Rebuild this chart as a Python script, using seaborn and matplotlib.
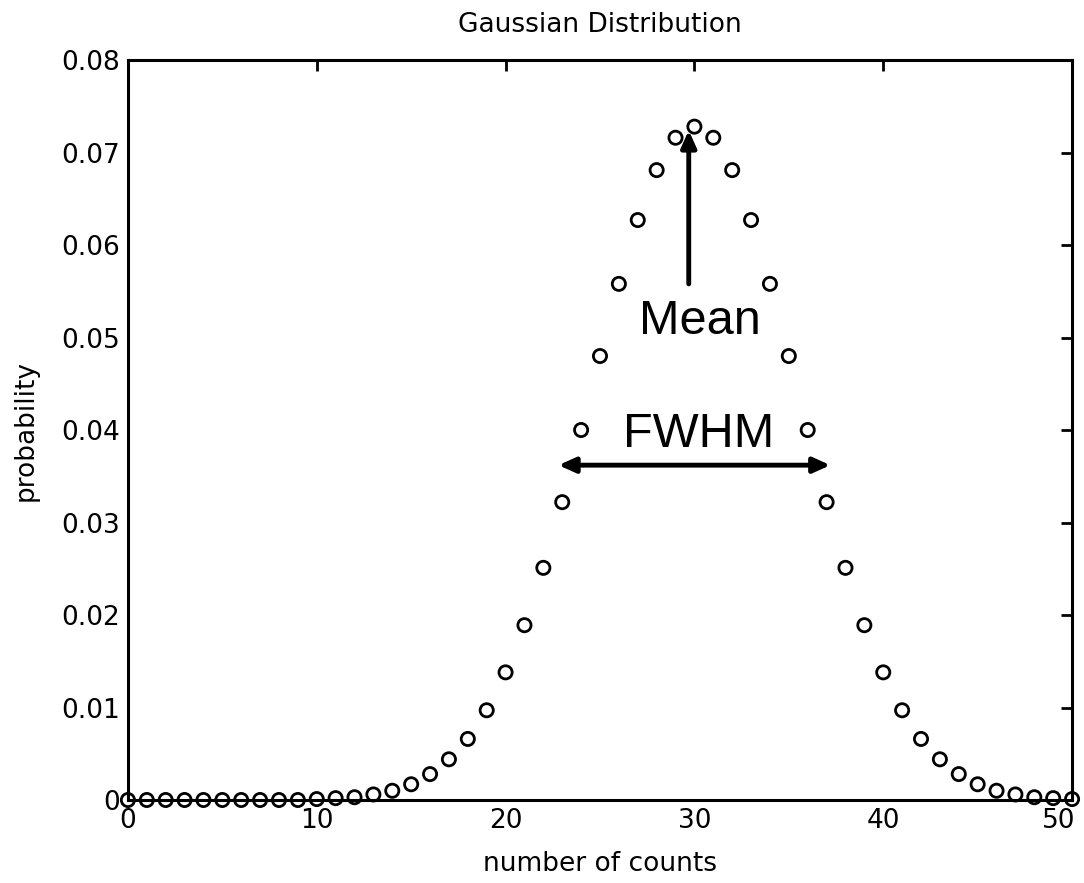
import numpy as np
import pandas as pd
import matplotlib
matplotlib.use("Agg")
import matplotlib.pyplot as plt
import matplotlib.transforms as mtransforms
import seaborn as sns

counts = list(range(0, 51))
prob = [
    0.0000, 0.0000, 0.0000, 0.0000, 0.0000, 0.0000, 0.0000, 0.0000, 0.0000, 0.0000,
    0.0001, 0.0002, 0.0003, 0.0006, 0.0010, 0.0017, 0.0028, 0.0044, 0.0066, 0.0097,
    0.0138, 0.0189, 0.0251, 0.0322, 0.0400, 0.0480, 0.0558, 0.0627, 0.0681, 0.0716,
    0.0728,
    0.0716, 0.0681, 0.0627, 0.0558, 0.0480, 0.0400, 0.0322, 0.0251, 0.0189, 0.0138,
    0.0097, 0.0066, 0.0044, 0.0028, 0.0017, 0.0010, 0.0006, 0.0003, 0.0002, 0.0001,
]
x_ticks = [0, 10, 20, 30, 40, 50]
y_ticks = [0, 0.01, 0.02, 0.03, 0.04, 0.05, 0.06, 0.07, 0.08]
y_ticklabels = ["0", "0.01", "0.02", "0.03", "0.04", "0.05", "0.06", "0.07", "0.08"]

df = pd.DataFrame({"counts": counts, "probability": prob})

sns.set_style("white")
plt.rcParams["font.family"] = ["DejaVu Sans"]
plt.rcParams["text.color"] = "black"
plt.rcParams["axes.labelcolor"] = "black"

fig = plt.figure(figsize=(10.84, 8.83), dpi=100)
ax = fig.add_axes([0.118, 0.094, 0.871, 0.838])

sns.scatterplot(
    data=df, x="counts", y="probability", marker="o", s=90,
    facecolor="none", edgecolor="black", linewidth=2.0, ax=ax, zorder=3, clip_on=False
)

ax.set_xlim(0, 50)
ax.set_ylim(0, 0.08)
ax.set_xticks(x_ticks)
ax.set_xticklabels([str(t) for t in x_ticks])
ax.set_yticks(y_ticks)
ax.set_yticklabels(y_ticklabels)
ax.tick_params(direction="in", length=8, width=2, top=True, right=True,
               labelsize=19, colors="black", pad=6)

# keep the last x label inside the figure, like the reference
last = ax.get_xticklabels()[-1]
last.set_transform(last.get_transform() +
                   mtransforms.ScaledTranslation(-0.13, 0, fig.dpi_scale_trans))

for s in ax.spines.values():
    s.set_visible(True)
    s.set_linewidth(2.2)
    s.set_color("black")

ax.set_title("Gaussian Distribution", fontsize=19, pad=20, color="black")
ax.set_xlabel("number of counts", fontsize=19, labelpad=12)
ax.set_ylabel("probability", fontsize=19, labelpad=16)

# annotations
ax.annotate("", xy=(29.7, 0.0727), xytext=(29.7, 0.0555),
            arrowprops=dict(arrowstyle="-|>,head_length=1.0,head_width=0.45",
                            color="black", lw=3.5))
ax.text(30.3, 0.0517, "Mean", fontsize=35, ha="center", va="center",
        family=["Liberation Sans", "DejaVu Sans"])
ax.annotate("", xy=(22.8, 0.0362), xytext=(37.2, 0.0362),
            arrowprops=dict(arrowstyle="<|-|>,head_length=1.0,head_width=0.45",
                            color="black", lw=3.5, shrinkA=0, shrinkB=0))
ax.text(30.2, 0.0395, "FWHM", fontsize=35, ha="center", va="center",
        family=["Liberation Sans", "DejaVu Sans"])

fig.savefig("out.png", dpi=100)
plt.close(fig)
